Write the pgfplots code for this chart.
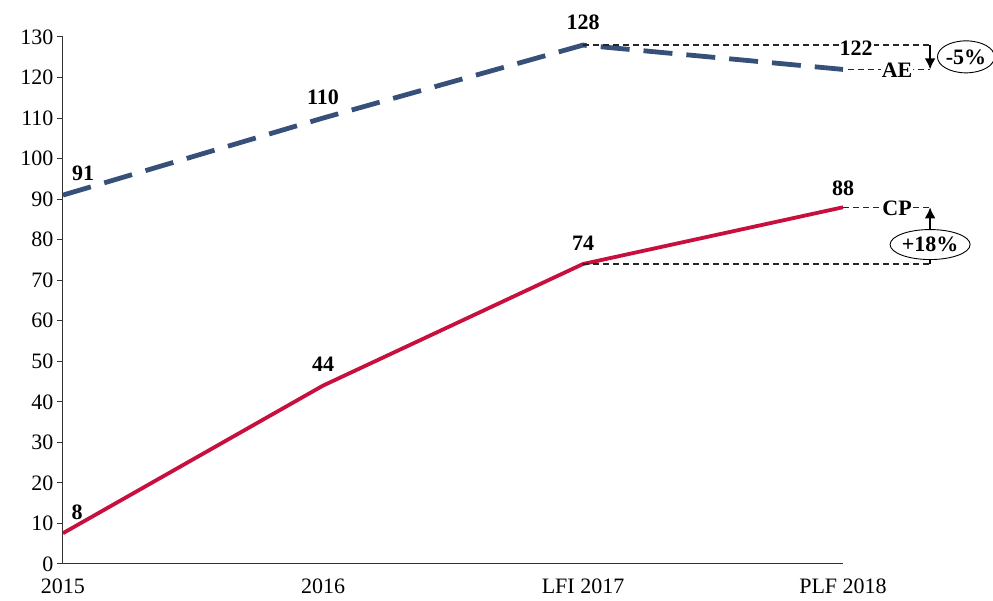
\documentclass[border=0pt]{standalone}
\usepackage{fontspec}
\setmainfont{Liberation Serif}
\usepackage{pgfplots}
\pgfplotsset{compat=1.18}
\usetikzlibrary{arrows.meta,shapes.geometric}
\definecolor{aecol}{HTML}{36507A}
\definecolor{cpcol}{HTML}{C8103E}
\newcommand{\bigf}{\fontsize{22}{25}\selectfont}
\tikzset{ann/.style={line width=1.3pt, black!85, dash pattern=on 6pt off 4pt}}
\begin{document}
\begin{tikzpicture}[font=\bigf]
\begin{axis}[
  scale only axis, width=780pt, height=527pt,
  xmin=0, xmax=3, ymin=0, ymax=130,
  axis x line=bottom, axis y line=left,
  axis line style={-, line width=1pt, black!80},
  xtick={0,1,2,3}, xticklabels={2015,2016,LFI 2017,PLF 2018},
  x tick label style={yshift=-8pt},
  ytick={0,10,...,130},
  tick style={black!80, line width=1pt},
  xtick style={draw=none},
  ytick align=outside, major tick length=6pt,
  tick label style={font=\bigf},
  /pgf/number format/assume math mode=true,
  clip=false,
]
\addplot[aecol, line width=4.8pt, dash pattern=on 29pt off 14pt] coordinates {(0,91) (1,110) (2,128) (3,122)};
\addplot[cpcol, line width=3.8pt] coordinates {(0,7.6) (1,44) (2,74) (3,88)};
\coordinate (bl) at (rel axis cs:0,0);
\coordinate (tr) at (rel axis cs:1,1);
% data labels
\node[font=\bigf\bfseries] at (axis cs:0.077,96.4) {91};
\node[font=\bigf\bfseries] at (axis cs:1,115.2) {110};
\node[font=\bigf\bfseries] at (axis cs:2,133.7) {128};
\node[font=\bigf\bfseries] at (axis cs:3,92.7) {88};
\node[font=\bigf\bfseries] at (axis cs:2,79.2) {74};
\node[font=\bigf\bfseries] at (axis cs:1,49.3) {44};
\node[font=\bigf\bfseries] at (axis cs:0.054,12.8) {8};
% AE annotation
\draw[ann] (axis cs:2,128) -- (axis cs:3.335,128);
\draw[ann] (axis cs:3.02,122) -- (axis cs:3.335,122);
\node[fill=white, inner sep=1pt, font=\bigf\bfseries] at (axis cs:3.05,127.3) {122};
\node[fill=white, inner sep=1pt, font=\bigf\bfseries] at (axis cs:3.208,121.8) {AE};
\draw[-{Latex[length=11pt,width=11pt]}, line width=2.2pt] (axis cs:3.335,128) -- (axis cs:3.335,122);
\node[draw, ellipse, line width=0.9pt, fill=white, inner sep=0pt, minimum width=52pt, minimum height=32pt, font=\bigf\bfseries] at (axis cs:3.473,125.1) {-5\%};
% CP annotation
\draw[ann] (axis cs:3,88) -- (axis cs:3.335,88);
\draw[ann] (axis cs:2,74) -- (axis cs:3.335,74);
\node[fill=white, inner sep=1pt, font=\bigf\bfseries] at (axis cs:3.208,87.8) {CP};
\draw[-{Latex[length=11pt,width=11pt]}, line width=2.2pt] (axis cs:3.335,74) -- (axis cs:3.335,88);
\node[draw, ellipse, line width=0.9pt, fill=white, inner sep=0pt, minimum width=80pt, minimum height=30pt, font=\bigf\bfseries] at (axis cs:3.335,78.8) {+18\%};
\end{axis}
\pgfresetboundingbox
\path ([shift={(-63pt,-37pt)}]bl) rectangle ([shift={(150pt,37pt)}]tr);
\end{tikzpicture}
\end{document}
